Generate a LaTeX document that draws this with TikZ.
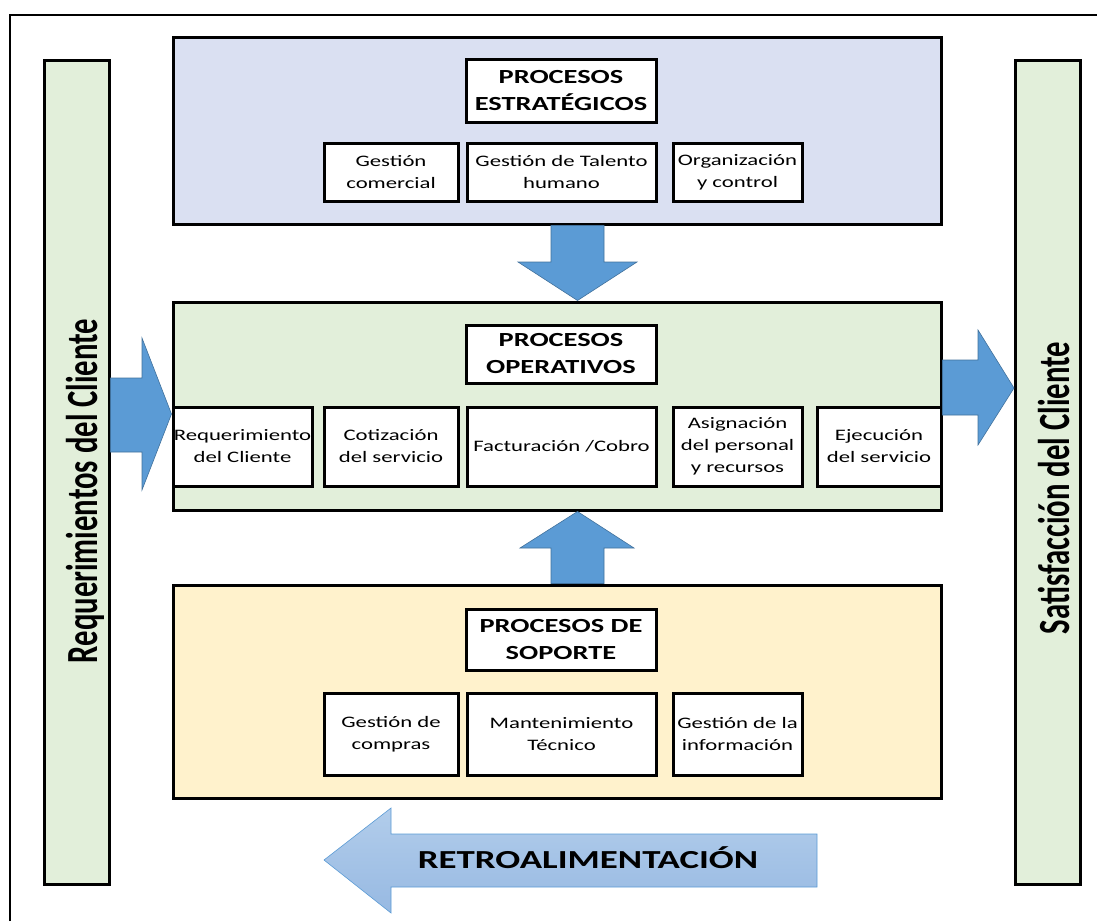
\documentclass[tikz,border=0pt]{standalone}
\usepackage{fontspec}
\setmainfont{Carlito}[FakeStretch=1.42]
\newfontfamily\ladofont{Carlito}[FakeStretch=0.69]
\usepackage{tikz}
\definecolor{azulclaro}{HTML}{DAE0F2}
\definecolor{verdeclaro}{HTML}{E2EFDA}
\definecolor{amarilloclaro}{HTML}{FFF2CC}
\definecolor{flecha}{HTML}{5B9BD5}
\definecolor{flechaborde}{HTML}{41719C}
\definecolor{retroA}{HTML}{B2CDEB}
\definecolor{retroB}{HTML}{97B9E2}

\begin{document}
\begin{tikzpicture}[x=1pt,y=-1pt,
  caja/.style={draw,line width=3pt,minimum width=768pt},
  sub/.style={draw,line width=3pt,fill=white,align=center,inner xsep=0pt,
    font=\fontsize{16}{22}\selectfont},
  titulo/.style={draw,line width=3pt,fill=white,align=center,minimum width=190pt,
    font=\fontsize{20}{27}\selectfont\bfseries},
  lado/.style={draw,line width=3pt,fill=verdeclaro,minimum width=65pt,minimum height=824pt},
  ladotexto/.style={rotate=90,font=\ladofont\fontsize{44.5}{44.5}\selectfont\bfseries},
  bloque/.style={fill=flecha,draw=flechaborde,line width=0.6pt}]
\useasboundingbox (0,0) rectangle (1097,921);
% marco
\draw[line width=2pt] (10,921) -- (10,15) -- (1097,15);
% columnas laterales
\node[lado] (req) at (76.5,472) {};
\node[lado] (sat) at (1048,472) {};
\node[ladotexto] (reqtxt) at (85,491) {Requerimientos del Cliente};
\node[ladotexto] (sattxt) at (1054,488) {Satisfacción del Cliente};
% procesos estrategicos
\node[caja,fill=azulclaro,minimum height=187pt] (estrat) at (557,130.5) {};
\node[titulo,minimum height=63pt] (testrat) at (561,90.5) {PROCESOS\\ESTRATÉGICOS};
\node[sub,minimum width=134pt,minimum height=58pt] (comercial) at (391,172) {Gestión\\comercial};
\node[sub,minimum width=189pt,minimum height=58pt] (talento) at (561.5,172) {Gestión de Talento\\humano};
\node[sub,minimum width=129pt,minimum height=58pt] (control) at (737.5,172) {Organización\\y control};
% procesos operativos
\node[caja,fill=verdeclaro,minimum height=208pt] (oper) at (557,406) {};
\node[titulo,minimum height=58pt] (toper) at (561,354) {PROCESOS\\OPERATIVOS};
\node[sub,minimum width=139pt,minimum height=79pt] (requerim) at (242.5,446.5) {Requerimiento\\del Cliente};
\node[sub,minimum width=134pt,minimum height=79pt] (cotiz) at (391,446.5) {Cotización\\del servicio};
\node[sub,minimum width=189pt,minimum height=79pt] (factur) at (561.5,446.5) {Facturación /Cobro};
\node[sub,minimum width=129pt,minimum height=79pt] (asign) at (737.5,446.5) {Asignación\\del personal\\y recursos};
\node[sub,minimum width=124pt,minimum height=79pt] (ejec) at (879,446.5) {Ejecución\\del servicio};
% procesos de soporte
\node[caja,fill=amarilloclaro,minimum height=213pt] (soporte) at (557,691.5) {};
\node[titulo,minimum height=61pt] (tsoporte) at (561,639.5) {PROCESOS DE\\SOPORTE};
\node[sub,minimum width=134pt,minimum height=82pt] (compras) at (391,734) {Gestión de\\compras};
\node[sub,minimum width=189pt,minimum height=82pt] (mant) at (561.5,734) {Mantenimiento\\Técnico};
\node[sub,minimum width=129pt,minimum height=82pt] (info) at (737.5,734) {Gestión de la\\información};
% flechas de bloque
\draw[bloque] (551,0 |- estrat.south) -- (604,0 |- estrat.south) -- (604,262) -- (637,262)
  -- (577.5,0 |- oper.north) -- (518,262) -- (551,262) -- cycle;
\draw[bloque] (551,0 |- soporte.north) -- (604,0 |- soporte.north) -- (604,548) -- (634,548)
  -- (577.5,0 |- oper.south) -- (520,548) -- (551,548) -- cycle;
\draw[bloque] (req.east |- 0,378) -- (142,378) -- (142,338) -- (oper.west |- 0,414)
  -- (142,490) -- (142,452) -- (req.east |- 0,452) -- cycle;
\draw[bloque] (oper.east |- 0,360) -- (978,360) -- (978,330) -- (sat.west |- 0,388)
  -- (978,445) -- (978,415) -- (oper.east |- 0,415) -- cycle;
% retroalimentacion
\draw[top color=retroA,bottom color=retroB,draw=flecha,line width=0.6pt]
  (817,834) -- (391,834) -- (391,808) -- (324,860) -- (391,913) -- (391,887) -- (817,887) -- cycle;
\node[font=\fontsize{26}{27}\selectfont\bfseries] (retro) at (588,858) {RETROALIMENTACIÓN};
\end{tikzpicture}
\end{document}
